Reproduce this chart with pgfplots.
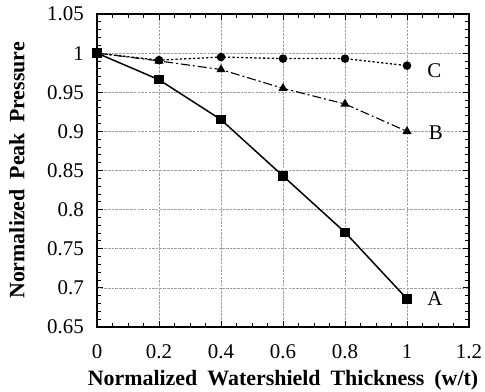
\documentclass[border=0pt]{standalone}
\usepackage{pgfplots}
\pgfplotsset{compat=1.18}
\usepackage{fontspec}
\setmainfont{Liberation Serif}
\newcommand{\gap}{\hspace{10bp}}
\begin{document}
\begin{tikzpicture}
\begin{axis}[
  scale only axis,
  width=372bp, height=313bp,
  xmin=0, xmax=1.2, ymin=0.65, ymax=1.05,
  xtick={0,0.2,0.4,0.6,0.8,1,1.2},
  xticklabels={0,0.2,0.4,0.6,0.8,1,1.2},
  ytick={0.65,0.7,0.75,0.8,0.85,0.9,0.95,1,1.05},
  yticklabels={0.65,0.7,0.75,0.8,0.85,0.9,0.95,1,1.05},
  minor x tick num=3, minor y tick num=4,
  tick align=inside, tick pos=both,
  major tick length=6bp, minor tick length=4bp,
  every tick/.style={black, line width=0.9pt},
  axis line style={line width=1.3pt},
  grid=major,
  major grid style={gray!75, line width=0.6pt, dash pattern=on 2.5pt off 1.2pt},
  tick label style={font=\fontsize{21}{23}\selectfont, inner sep=0pt},
  xticklabel style={anchor=center, yshift=-25bp},
  yticklabel style={anchor=east, xshift=-13bp},
  xlabel={\textbf{Normalized\gap Watershield\gap Thickness\gap (w/t)}},
  ylabel={\textbf{Normalized\gap Peak\gap Pressure}},
  label style={font=\fontsize{22}{24}\selectfont, inner sep=0pt},
  xlabel style={at={(axis description cs:0.5,0)}, anchor=center, yshift=-53bp},
  ylabel style={at={(axis description cs:0,0.5)}, anchor=center, yshift=80bp},
  clip=false,
]
\addplot[black, line width=1.5pt, mark=square*, mark size=4bp] coordinates {
(0,1) (0.2,0.966) (0.4,0.915) (0.6,0.843) (0.8,0.771) (1.0,0.686)};
\addplot[black, line width=1.1pt, dash pattern=on 9pt off 3pt on 2pt off 3pt, mark=triangle*, mark size=4.2bp, mark options={solid}] coordinates {
(0,1) (0.2,0.990) (0.4,0.979) (0.6,0.955) (0.8,0.935) (1.0,0.900)};
\addplot[black, line width=1.3pt, dash pattern=on 2.2pt off 2.2pt, mark=*, mark size=3.6bp, mark options={solid}] coordinates {
(0,1) (0.2,0.991) (0.4,0.995) (0.6,0.993) (0.8,0.993) (1.0,0.984)};
\node[anchor=west, inner sep=0pt, font=\fontsize{21}{23}\selectfont] at (axis cs:1.065,0.686) {A};
\node[anchor=west, inner sep=0pt, font=\fontsize{21}{23}\selectfont] at (axis cs:1.07,0.898) {B};
\node[anchor=west, inner sep=0pt, font=\fontsize{21}{23}\selectfont] at (axis cs:1.065,0.978) {C};
\end{axis}
\pgfresetboundingbox
\path (current axis.south west) ++(-97bp,-65bp) rectangle ++(485bp,392bp);
\end{tikzpicture}
\end{document}
